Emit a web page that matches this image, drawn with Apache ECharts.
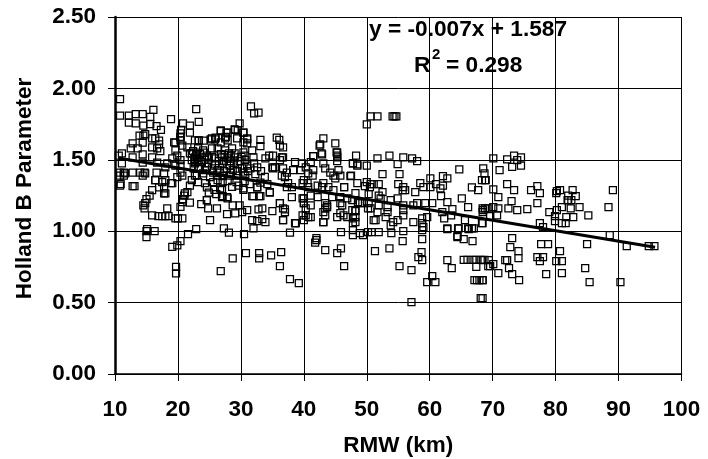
<!DOCTYPE html>
<html><head><meta charset="utf-8">
<style>html,body{margin:0;padding:0;background:#fff}#c{width:708px;height:459px}</style>
<script src="https://cdn.jsdelivr.net/npm/echarts@6/dist/echarts.min.js"></script>
</head><body><div id="c"></div>
<script>
const xTicks = [10, 100];
const yTicks = [0, 2.5];
const trendX = [10.5, 95.8];
const trendY = [1.513, 0.888];
const xTitle = 'RMW (km)';
const yTitle = 'Holland B Parameter';
const eqLine = 'y = -0.007x + 1.587';
const observationsUpper = [
[10.8,1.925],[10.8,1.81],[12.2,1.81],[12.2,1.76],[13.3,1.82],[14.4,1.82],[16.1,1.85],[15.6,1.80],[18.9,1.785],[22.9,1.855],[20.8,1.755],[21.9,1.74],[23.3,1.765],[21.9,1.69],[20.5,1.71],[16.6,1.735],[17.3,1.71],[15.6,1.75],[13.3,1.755],[14.5,1.74],[14.5,1.67],[13.9,1.67],[14.8,1.68],[31.6,1.875],[32.1,1.825],[32.8,1.83],[29.8,1.755],[26.8,1.70],[27.7,1.69],[29.1,1.71],[30.4,1.69],[33.1,1.64],[33.1,1.595],[35.7,1.655],[36.1,1.64],[36.2,1.60],[25.4,1.65],[26,1.655],[23.3,1.635],[24.1,1.635],[20.4,1.66],[19.6,1.62],[27.6,1.66],[31,1.65]
];
const observationsDenseLeft = [
[15.9,1.65],[16.4,1.65],[17,1.635],[20.4,1.685],[20.4,1.657],[20.4,1.636],[12.8,1.615],[12.5,1.58],[14.4,1.62],[13.6,1.58],[15.9,1.587],[17,1.608],[16.7,1.58],[17.2,1.56],[19.4,1.622],[19.6,1.566],[20.7,1.6],[21.5,1.587],[21.9,1.545],[11.1,1.545],[10.6,1.53],[14.4,1.538],[12.8,1.517],[14.4,1.48],[11.1,1.475],[15.9,1.517],[16.7,1.48],[19.1,1.51],[19.9,1.53],[20.4,1.497],[20.4,1.46],[18.3,1.475],[18,1.447],[19.6,1.46],[10.8,1.41],[11.4,1.41],[11.6,1.405],[10.8,1.39],[11.4,1.39],[12.8,1.41],[14,1.41],[14.7,1.41],[14.8,1.405],[14.4,1.39],[16.6,1.41],[16.4,1.357],[17.8,1.405],[18,1.357],[20.4,1.41],[19.9,1.378],[20.7,1.39],[10.8,1.32],[13.1,1.315],[15.9,1.287],[15.5,1.25],[17.8,1.265],[17,1.307],[19.1,1.336],[14.8,1.196],[14.7,1.16],[21.9,1.32],[21.5,1.273],[21,1.25],[20.7,1.203],[22.7,1.39],[23.3,1.44],[22.2,1.357],[22.2,1.545],[22.7,1.517],[23.3,1.497],[22.7,1.483],[22.2,1.497],
[10.9,1.33],[12.8,1.315],[16.4,1.357],[17.5,1.343],[17.8,1.30],[18,1.265],[18.9,1.336],[15,1.225],[14.5,1.18],[15.9,1.11],[16.9,1.105],[17.5,1.105],[18,1.105],[18.5,1.105],[18.3,1.16],[19.6,1.09],[20,1.09],[20.7,1.09],[20.4,1.17],[20.8,1.225],[21.9,1.20],[21.1,1.265]
];
const observationsDenseMid = [
[26.8,1.706],[27.9,1.69],[29,1.713],[29.5,1.706],[30.4,1.69],[23.3,1.636],[22.7,1.636],[25.2,1.643],[25.9,1.643],[26.8,1.622],[27.5,1.65],[27.9,1.636],[29.4,1.65],[31,1.643],[30.4,1.622],[31,1.615],[23.2,1.58],[24,1.566],[25.4,1.58],[26.3,1.58],[27.5,1.566],[28.6,1.58],[30.4,1.552],[29,1.545],[31.8,1.566],[32,1.517],[33.9,1.51],[35.1,1.53],[36.5,1.517],[35.1,1.44],[35,1.447],[35.4,1.447],[36.7,1.44],
[23,1.53],[23.8,1.517],[24.6,1.53],[25.9,1.51],[27,1.517],[27.9,1.51],[29,1.517],[30.7,1.497],[22.7,1.475],[23.8,1.483],[24.8,1.475],[25.9,1.468],[27.1,1.475],[28.2,1.46],[29.5,1.468],[31,1.46],[32.1,1.475],[23.2,1.44],[24.3,1.427],[25.4,1.44],[26.3,1.427],[27.8,1.44],[28.7,1.427],[30.2,1.44],[31.5,1.44],[32.6,1.447],[23,1.39],[24,1.405],[25.1,1.378],[26.2,1.39],[27.1,1.385],[28.2,1.39],[29.3,1.39],[30.7,1.39],[32.3,1.4],[23.2,1.343],[24.3,1.336],[26.3,1.357],[25.6,1.343],[27.1,1.343],[27.9,1.35],[29.3,1.343],[30.4,1.30],[32.6,1.307],[34.6,1.273],[31.8,1.245],[33.1,1.245],[27,1.238],[27.8,1.238],[26.7,1.30],[34.5,1.53],[36.2,1.497],[36.5,1.39],[24.6,1.217],
[23.7,1.19],[24.6,1.217],[24.8,1.16],[26.2,1.16],[25.1,1.077],[27.8,1.12],[28.7,1.18],[29.1,1.125],[29.8,1.18],[30.2,1.133],[31,1.147],[32.8,1.153],[33.4,1.16],[35,1.14],[37,1.153],[36.2,1.196],[32,1.245],[32.9,1.245],[34.6,1.27],[32.6,1.307],[30.4,1.29],[27,1.287],[27.1,1.245],[27.9,1.23],[24.6,1.307],
[22.4,1.56],[22.9,1.55],[23.5,1.54],[24.1,1.55],[22.6,1.505],[23.1,1.51],[24.2,1.5],[24.9,1.51],[25.4,1.52],[26.5,1.49],[27.3,1.495],[28.3,1.49],[28.9,1.48],[29.8,1.49],[30.1,1.52],[30.6,1.53],[26.8,1.54],[27.4,1.535],[28.1,1.545],[28.4,1.53],[22.5,1.44],[24.6,1.45],[25.6,1.41],[26.6,1.41],[27.3,1.42],[28.4,1.41],[29.4,1.42],[30.4,1.41],[31.1,1.42],[33.2,1.42],[33.8,1.38],[34.2,1.33],[33.1,1.34],[31.4,1.33],[30.6,1.35],[29.6,1.32],[28.6,1.31],[25.8,1.29],[26.1,1.26],[24.9,1.27]
];
const observationsLow = [
[15.1,1.014],[16.3,1.0],[15,1.0],[15,0.958],[22.9,1.014],[21.6,0.98],[20.4,0.93],[19.9,0.90],[19.1,0.89],[19.7,0.75],[19.7,0.705],[26.8,0.72],[28.7,0.81],[30.8,0.846],[32.9,0.846],[32.9,0.81],[34.8,0.83],[36.4,0.853],[36.2,0.755],[37.8,0.664],[39.2,0.636],[27.3,1.02],[28.1,0.99],[30.5,0.98],[31.8,1.077],[32,1.02],[32.6,1.07],[33.4,1.084],[33.9,1.063],[36.7,1.077],[38.7,1.056],[37.8,0.99],
[41.8,0.92],[42,0.937],[43.4,0.867],[45.3,0.846],[45.9,0.88],[46.4,0.755],[51.3,0.86],[53.6,0.88],[55.2,0.755],[57.1,0.727],[58.2,0.818],[58.8,0.797],[58.7,0.853],[55.7,0.93],[58.8,0.944],[62.8,1.014],[62.8,0.797],[63.5,0.741],[59.6,0.643],[60.4,0.685],[60.9,0.643],[57.1,0.503],[68.1,0.531],[67.1,0.657],[67.5,0.657],[67.9,0.657],[68.4,0.657],[65.4,0.80],[66,0.80],[66.8,0.80],[67.4,0.80],[68.1,0.80],[68.7,0.80],[67.4,0.75],[69.3,0.755],[64.4,0.958],[65.4,0.944],[66.8,0.93],[64.6,1.02],[66.2,1.014],[67,1.02]
];
const observationsRight = [
[89.1,1.287],[88.4,1.168],[88.6,0.972],[91.3,0.895],[94.8,0.895],[95.7,0.895],[85,0.909],[84.7,0.741],[85.4,0.643],[90.3,0.643],[70.1,1.51],[72.3,1.503],[73.4,1.53],[74.5,1.517],[73.1,1.45],[74.5,1.46],[73.9,1.497],[71.1,1.427],[68.5,1.44],[68.7,1.405],[68.9,1.357],[72.3,1.33],[73.4,1.287],[70.1,1.293],[70.9,1.238],[73,1.21],[76.1,1.287],[77.1,1.315],[77.5,1.266],[77.1,1.196],[75.5,1.154],[73.9,1.147],[72.5,1.16],[70.9,1.16],[70.1,1.168],[68.5,1.147],[68.4,1.16],[69.2,1.16],[70.7,1.11],[69.6,1.105],[68.4,1.056],[80.2,1.28],[80.7,1.287],[80.1,1.266],[82.7,1.287],[82,1.25],[83.2,1.245],[82,1.217],[82.5,1.217],[81.9,1.217],[83.8,1.168],[85.2,1.11],[82.4,1.16],[81,1.168],[80.2,1.147],[79,1.133],[79.9,1.105],[79.9,1.07],[81.7,1.098],[82.8,1.098],[81.6,1.056],[81,1.056],[77.5,1.056],[78,1.028],
[73.1,0.951],[72.8,0.888],[74.1,0.86],[74.1,0.811],[77.7,0.909],[78.8,0.909],[80.7,0.86],[77.1,0.818],[78,0.818],[77.5,0.79],[80.1,0.79],[81,0.79],[78.5,0.70],[81,0.706],[68.4,0.797],[69.4,0.797],[72,0.797],[72.3,0.797],[70.9,0.706],[72.6,0.741],[73.1,0.70],[74.2,0.657],[70.1,0.77],[69.6,0.755],[68.4,0.657],[68.4,0.531]
];
const observationsCentre = [
[50.6,1.804],[51.7,1.804],[54.1,1.804],[54.4,1.804],[54.7,1.804],[50,1.748],[43.1,1.65],[45,1.615],[42.5,1.6],[42.8,1.545],[41.5,1.525],[45.3,1.55],[45.3,1.53],[48.3,1.53],[51.7,1.51],[53.6,1.53],[55.8,1.517],[57.2,1.51],[58,1.49],[54.9,1.47],[50,1.46],[47.8,1.475],[48.5,1.46],[47.5,1.39],[52.5,1.4],[55.2,1.4],[64.7,1.433],[62.1,1.385],[62.8,1.37],[60.1,1.37],[58.5,1.336],[59,1.308],[57.7,1.273],[61,1.33],[60.1,1.308],[62.1,1.32],[61.7,1.30],[61.8,1.245],[62.8,1.203],[65.1,1.23],[66.7,1.307],[67.7,1.287],[68.3,1.357],[68.8,1.357],
[48.5,1.336],[46.4,1.308],[49.7,1.315],[50.6,1.33],[51.1,1.33],[51.9,1.33],[55,1.33],[55.8,1.308],[55.7,1.287],[56.1,1.287],[50.3,1.26],[51.9,1.25],[52.5,1.273],[66.1,1.168],[68.8,1.16],[68.4,1.133],[62,1.133],[63.6,1.154],[63.4,1.11],[65.6,1.077],[68.3,1.056],[62.3,1.09],[64.5,1.02],[66.1,1.02],[66.7,1.02],[62.8,1.02],[64.4,0.965],
[55.8,1.18],[55.8,1.147],[55.8,1.11],[57.4,1.18],[58,1.196],[59.3,1.196],[60.4,1.196],[59.6,1.098],[58.8,1.09],[58.8,1.056],[59,1.028],[58.8,1.007],[57.4,1.063],[55.8,1.0],[53.9,0.986],[53.8,1.04],[54.9,1.077],[54.2,1.063],[51.9,0.993],[51.4,1.077],[51.1,1.077],[51.7,1.133],[50.6,1.16],[50.3,1.196],[53.3,1.168],[53.3,1.133],[53,1.098],[53.8,1.217],[54.9,1.23],[52.2,1.23],[51.9,1.18],[47.8,1.09],[47.8,1.056],[47.8,1.007],[47.8,0.972],[48.9,0.986],[49.4,0.972],[50.2,0.993],[50.8,0.993],[45.9,0.993],[43.1,1.063],[43.4,1.11],[43.4,1.16],[43.7,1.18],[45.8,1.126],[46.9,1.098],[47.7,1.147],[48.2,1.14],[45.8,1.196],[46.1,1.18],[48.2,1.266],[48.9,1.196],[50.2,1.16],[40.3,1.11],[40,1.077],[40.7,1.098],[38.6,1.056],[41.1,1.18],[40,1.196],[40,1.23],[42,0.951]
];
const observationsDenseRight = [
[42.6,1.608],[42.9,1.538],[41.5,1.525],[45.2,1.552],[45.3,1.517],[45.3,1.49],[47.8,1.475],[48.5,1.468],[47.4,1.385],[46.4,1.308],[50,1.343],[50.5,1.308],[36.7,1.587],[36.7,1.517],[38.6,1.483],[39.7,1.475],[40.3,1.447],[39.5,1.427],[38.3,1.427],[37.3,1.41],[37,1.378],[41.1,1.483],[41.5,1.427],[41.4,1.39],[40.7,1.405],[43.1,1.475],[43.4,1.44],[44.2,1.41],[45.5,1.427],[44.7,1.39],[45,1.37],[45.8,1.39],[37.5,1.336],[37.3,1.308],[38.1,1.308],[40,1.357],[39.8,1.336],[40.6,1.336],[40.7,1.308],[42.2,1.32],[43.1,1.336],[42.9,1.308],[43.9,1.308],[44.7,1.287],[38.1,1.238],[39.8,1.23],[40,1.196],[41.1,1.25],[42.2,1.238],[40.3,1.16],[41.1,1.098],[39.8,1.11],[43.4,1.196],[43.7,1.168],[43.1,1.133],[43.1,1.063],[44.5,1.238],[45.8,1.238],[46.9,1.23],[47.7,1.217],[48.6,1.203],[49.3,1.196],[48.2,1.147],[48.2,1.098],[48.2,1.063],[45.3,1.098],[46.3,1.11],[36.7,1.16],[37,1.133],[36.2,1.196],[36.7,1.077],[38.7,1.056]
];
const observations = [...observationsUpper, ...observationsDenseLeft, ...observationsDenseMid, ...observationsLow, ...observationsRight, ...observationsCentre, ...observationsDenseRight];
const AF = '"Liberation Sans", Arial, sans-serif';
const FS = 22.5;
const tick = {show:true,length:7,inside:false,lineStyle:{color:'#000',width:1}};
const chart = echarts.init(document.getElementById('c'), null, {renderer:'canvas'});
chart.setOption({
  animation:false,
  backgroundColor:'#fff',
  grid:{left:115,top:17,width:566.5,height:357,containLabel:false,outerBoundsMode:'none'},
  xAxis:{type:'value',min:xTicks[0],max:xTicks[1],interval:10,name:xTitle,nameLocation:'middle',nameGap:60,
    nameTextStyle:{fontFamily:AF,fontWeight:'bold',fontSize:FS,color:'#000'},
    axisLine:{show:true,onZero:false,lineStyle:{color:'#000',width:1.5}},axisTick:tick,
    axisLabel:{fontFamily:AF,fontWeight:'bold',fontSize:FS,color:'#000',margin:24,showMinLabel:true,showMaxLabel:true},
    splitLine:{show:true,lineStyle:{color:'#000',width:1}}},
  yAxis:{type:'value',min:yTicks[0],max:yTicks[1],interval:0.5,name:yTitle,nameLocation:'middle',nameGap:79,
    nameTextStyle:{fontFamily:AF,fontWeight:'bold',fontSize:FS,color:'#000',padding:[0,0,0,14]},
    axisLine:{show:true,onZero:false,lineStyle:{color:'#000',width:2.5}},axisTick:tick,
    axisLabel:{fontFamily:AF,fontWeight:'bold',fontSize:FS,color:'#000',margin:19,formatter:v=>v.toFixed(2)},
    splitLine:{show:true,lineStyle:{color:'#000',width:1}}},
  series:[
    {type:'scatter',data:observations,symbol:'rect',symbolSize:7,clip:false,
     itemStyle:{color:'rgba(0,0,0,0)',borderColor:'#000',borderWidth:1.25,opacity:1}},
    {type:'line',data:trendX.map((x,i)=>[x,trendY[i]]),symbol:'none',lineStyle:{color:'#000',width:3},z:5}
  ],
  graphic:[
    {type:'text',left:369,top:18,style:{text:eqLine,font:'bold 22.7px '+AF,fill:'#000'}},
    {type:'text',left:414,top:54,style:{text:'R',font:'bold 22.7px '+AF,fill:'#000'}},
    {type:'text',left:432,top:47,style:{text:'2',font:'bold 15px '+AF,fill:'#000'}},
    {type:'text',left:446,top:54,style:{text:'= 0.298',font:'bold 22.7px '+AF,fill:'#000'}}
  ]
});
</script></body></html>
